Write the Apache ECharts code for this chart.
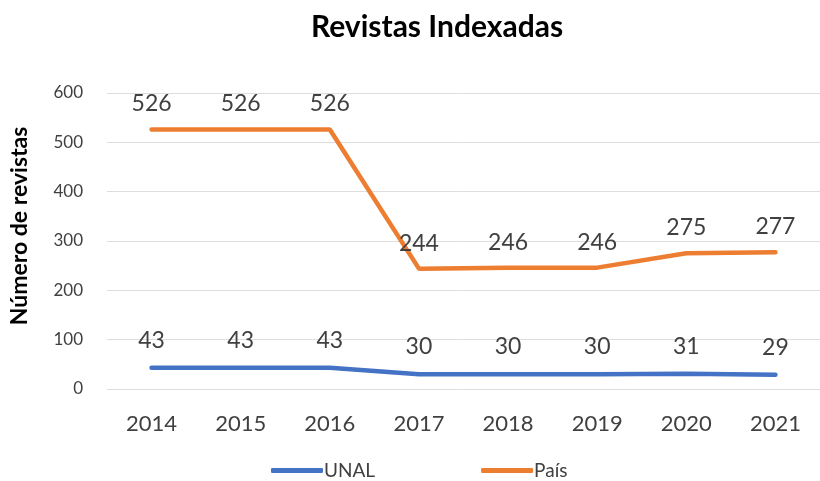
<!DOCTYPE html>
<html>
<head>
<meta charset="utf-8">
<script src="https://cdn.jsdelivr.net/npm/echarts@6/dist/echarts.min.js"></script>
<style>
  html, body { margin: 0; padding: 0; background: #fff; }
  #chart { width: 820px; height: 481px; }
</style>
</head>
<body>
<div id="chart"></div>
<script>
const years = ['2014', '2015', '2016', '2017', '2018', '2019', '2020', '2021']
const unal = [43, 43, 43, 30, 30, 30, 31, 29]
const pais = [526, 526, 526, 244, 246, 246, 275, 277]

const font = 'Lato, "Open Sans", sans-serif'

const chart = echarts.init(document.getElementById('chart'))

chart.setOption({
  animation: false,
  title: {
    text: 'Revistas Indexadas',
    left: 432,
    textAlign: 'center',
    top: 7,
    textStyle: { fontFamily: font, fontSize: 30, fontWeight: 'bold', color: '#000' }
  },
  legend: {
    data: ['UNAL', 'País'],
    left: 266,
    top: 456,
    itemWidth: 52,
    itemHeight: 5,
    itemGap: 106,
    icon: 'roundRect',
    textStyle: { fontFamily: font, fontSize: 19, color: '#404040', padding: [0, 0, 0, -4] }
  },
  grid: {
    left: 107,
    top: 93,
    width: 720,
    height: 296
  },
  xAxis: {
    type: 'category',
    data: years,
    axisLine: { show: false },
    axisTick: { show: false },
    axisLabel: { fontFamily: font, fontSize: 22, color: '#404040', margin: 24 }
  },
  yAxis: {
    type: 'value',
    min: 0,
    max: 600,
    interval: 100,
    name: 'Número de revistas',
    nameLocation: 'middle',
    nameGap: 76,
    nameTextStyle: {
      fontFamily: font, fontSize: 23, fontWeight: 'bold', color: '#000',
      padding: [0, 0, 0, 30]
    },
    axisLine: { show: false },
    axisTick: { show: false },
    axisLabel: { fontFamily: font, fontSize: 17, color: '#404040', margin: 24 },
    splitLine: { lineStyle: { color: '#dedede', width: 1 } }
  },
  series: [
    {
      name: 'UNAL',
      type: 'line',
      data: unal,
      symbol: 'circle',
      symbolSize: 0,
      lineStyle: { width: 4.5, color: '#4472C4', cap: 'round' },
      itemStyle: { color: '#4472C4' },
      label: {
        show: true, position: 'top', distance: 16,
        fontFamily: font, fontSize: 23, color: '#404040'
      }
    },
    {
      name: 'País',
      type: 'line',
      data: pais,
      symbol: 'circle',
      symbolSize: 0,
      lineStyle: { width: 4.5, color: '#ED7D31', cap: 'round' },
      itemStyle: { color: '#ED7D31' },
      label: {
        show: true, position: 'top', distance: 14,
        fontFamily: font, fontSize: 23, color: '#404040'
      }
    }
  ]
})
</script>
</body>
</html>
